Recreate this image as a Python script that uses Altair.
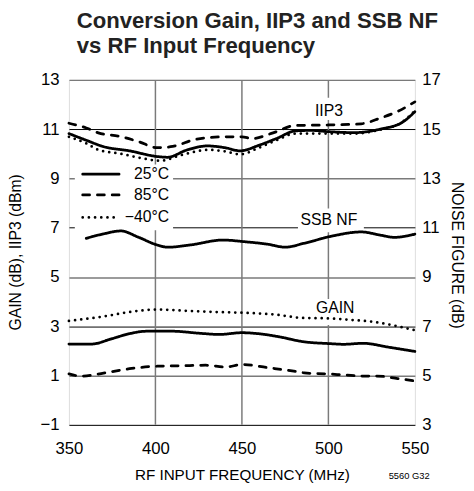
import altair as alt
import pandas as pd

FONT = "Liberation Sans"

# ---------------- data ----------------
temps = ["25°C", "85°C", "−40°C"]

iip3_25_f = [350, 360, 370, 385, 401, 407, 418, 430, 440, 449, 460, 470, 481, 490, 500, 515, 530, 543, 550]
iip3_25_v = [10.82, 10.55, 10.29, 10.12, 9.89, 9.86, 10.15, 10.32, 10.25, 10.12, 10.35, 10.62, 10.93, 10.95, 10.90, 10.86, 11.0, 11.29, 11.71]

iip3_85_f = [350, 360, 367, 380, 390, 401, 410, 424, 441, 450, 456, 468, 481, 500, 519, 530, 540, 550]
iip3_85_v = [11.24, 11.05, 10.85, 10.70, 10.50, 10.25, 10.30, 10.60, 10.69, 10.69, 10.62, 10.85, 11.15, 11.17, 11.22, 11.45, 11.72, 12.11]

iip3_m40_f = [350, 360, 367, 380, 390, 403, 415, 431, 440, 449, 460, 470, 481, 495, 515, 530, 543, 550]
iip3_m40_v = [10.69, 10.42, 10.16, 10.0, 9.85, 9.72, 9.95, 10.16, 10.10, 9.98, 10.25, 10.55, 10.82, 10.82, 10.82, 10.98, 11.3, 11.75]

# SSB noise figure, in dB (right axis)
nf_25_f = [360, 370, 380, 390, 401, 407, 420, 439, 452, 465, 475, 486, 502, 519, 530, 538, 550]
nf_25_v = [10.57, 10.75, 10.87, 10.62, 10.30, 10.21, 10.30, 10.50, 10.43, 10.33, 10.21, 10.37, 10.66, 10.83, 10.70, 10.61, 10.74]

gain_m40_f = [350, 370, 385, 401, 420, 435, 450, 470, 485, 500, 515, 526, 540, 550]
gain_m40_v = [3.22, 3.40, 3.58, 3.68, 3.62, 3.58, 3.55, 3.47, 3.34, 3.32, 3.25, 3.18, 3.0, 2.84]

gain_25_f = [350, 363, 375, 385, 395, 410, 425, 437, 450, 462, 471, 486, 500, 509, 520, 535, 550]
gain_25_v = [2.28, 2.28, 2.50, 2.70, 2.80, 2.80, 2.72, 2.67, 2.74, 2.68, 2.58, 2.37, 2.30, 2.27, 2.31, 2.15, 1.98]

gain_85_f = [350, 357, 370, 385, 401, 415, 429, 441, 450, 465, 480, 486, 499, 510, 520, 528, 540, 550]
gain_85_v = [1.07, 0.98, 1.10, 1.28, 1.38, 1.40, 1.42, 1.35, 1.45, 1.32, 1.18, 1.11, 1.07, 1.02, 0.98, 0.98, 0.88, 0.78]

left_ticks = [-1, 1, 3, 5, 7, 9, 11, 13]
x_ticks = [350, 400, 450, 500, 550]
NF_OFFSET = 4  # noise figure axis = left axis + 4 dB

# in-plot labels (text, freq, level) and their knock-out boxes
labels = ["IIP3", "SSB NF", "GAIN"]
label_f = [500.3, 500.3, 503.9]
label_v = [11.72, 7.30, 3.75]
box_f1 = [353.4, 489.0, 482.4, 493.2]
box_f2 = [410.2, 510.2, 520.5, 513.6]
box_v1 = [6.9, 11.37, 6.82, 3.05]
box_v2 = [9.57, 12.28, 7.78, 4.11]

# ---------------- tables ----------------
rows = []
def add(curve, temp, fs, vs):
    for f, v in zip(fs, vs):
        rows.append({"curve": curve, "temp": temp, "freq": f, "value": v})

add("iip3_25", temps[0], iip3_25_f, iip3_25_v)
add("iip3_85", temps[1], iip3_85_f, iip3_85_v)
add("iip3_m40", temps[2], iip3_m40_f, iip3_m40_v)
add("nf_25", temps[0], nf_25_f, [v - NF_OFFSET for v in nf_25_v])
add("gain_25", temps[0], gain_25_f, gain_25_v)
add("gain_85", temps[1], gain_85_f, gain_85_v)
add("gain_m40", temps[2], gain_m40_f, gain_m40_v)
df = pd.DataFrame(rows)

lab_df = pd.DataFrame({"label": labels, "freq": label_f, "value": label_v})
box_df = pd.DataFrame({"f1": box_f1, "f2": box_f2, "v1": box_v1, "v2": box_v2})
vgrid_df = pd.DataFrame({"freq": x_ticks[1:-1]})

xscale = alt.Scale(domain=[350, 550], nice=False, zero=False)
yscale = alt.Scale(domain=[-1, 13], nice=False, zero=False)

x_axis = alt.Axis(values=x_ticks, ticks=False, domain=False, labelPadding=16,
                  labelFlush=False, grid=False,
                  labelFontSize=17, labelFont=FONT, labelColor="black",
                  title="RF INPUT FREQUENCY (MHz)", titleFont=FONT, titleFontSize=15.5,
                  titleFontWeight="normal", titleColor="black",
                  titleY=51, titleBaseline="middle")

left_axis = alt.Axis(values=left_ticks, ticks=False, domain=False, labelPadding=10,
                     labelFontSize=17, labelFont=FONT, labelColor="black",
                     grid=True,
                     gridColor={"condition": {"test": "(datum.value + 1) % 4 == 0", "value": "black"}, "value": "#7a7a7a"},
                     gridWidth={"condition": {"test": "(datum.value + 1) % 4 == 0", "value": 1}, "value": 1.5},
                     title="GAIN (dB), IIP3 (dBm)", titleFont=FONT, titleFontSize=16,
                     titleFontWeight="normal", titleColor="black",
                     titleAngle=-90, titleX=-54, titleY=175, titleAlign="center",
                     titleBaseline="middle")

right_axis = alt.Axis(orient="right", values=left_ticks, labelExpr=f"datum.value + {NF_OFFSET}",
                      ticks=False, domain=False, grid=False, labelPadding=7,
                      labelFontSize=17, labelFont=FONT, labelColor="black",
                      title="NOISE FIGURE (dB)", titleFont=FONT, titleFontSize=16,
                      titleFontWeight="normal", titleColor="black",
                      titleAngle=90, titleX=42, titleY=178, titleAlign="center",
                      titleBaseline="middle")

vgrid = alt.Chart(vgrid_df).mark_rule(color="#7a7a7a", strokeWidth=1.5).encode(
    x=alt.X("freq:Q", scale=xscale, axis=x_axis),
)

boxes = alt.Chart(box_df).mark_rect(color="white").encode(
    x=alt.X("f1:Q", scale=xscale, axis=x_axis),
    x2="f2:Q",
    y=alt.Y("v1:Q", scale=yscale, axis=right_axis),
    y2="v2:Q",
)

lines = alt.Chart(df).mark_line(color="black", strokeWidth=2.8, strokeCap="round",
                                interpolate="monotone").encode(
    x=alt.X("freq:Q", scale=xscale, axis=x_axis),
    y=alt.Y("value:Q", scale=yscale, axis=left_axis),
    detail="curve:N",
    strokeDash=alt.StrokeDash("temp:N", legend=None,
                              scale=alt.Scale(domain=temps, range=[[1, 0], [7, 8], [0, 6.3]])),
)

texts = alt.Chart(lab_df).mark_text(font=FONT, fontSize=16, color="black",
                                    baseline="middle", align="center").encode(
    x=alt.X("freq:Q", scale=xscale, axis=x_axis),
    y=alt.Y("value:Q", scale=yscale, axis=None),
    text="label:N",
)

legend_layers = []
leg_y = [96, 117, 140]
leg_dash = [[1, 0], [7, 8], [0, 6.3]]
for t, yy, dash in zip(temps, leg_y, leg_dash):
    d = pd.DataFrame({"temp": [t]})
    legend_layers.append(
        alt.Chart(d).mark_rule(color="black", strokeWidth=2.8, strokeCap="round",
                               strokeDash=dash).encode(
            x=alt.value(14), x2=alt.value(51), y=alt.value(yy)))
    legend_layers.append(
        alt.Chart(d).mark_text(font=FONT, fontSize=16, color="black",
                               align="right", baseline="middle").encode(
            x=alt.value(102), y=alt.value(yy), text="temp:N"))

foot = alt.Chart(pd.DataFrame({"t": ["5560 G32"]})).mark_text(
    font=FONT, fontSize=9.5, color="black", align="right", baseline="middle").encode(
    x=alt.value(367), y=alt.value(403), text="t:N")

chart = alt.layer(vgrid, boxes, lines, texts, *legend_layers, foot).resolve_axis(
    y="independent"
).properties(
    width=352, height=351,
    autosize=alt.AutoSizeParams(type="none"),
    padding={"left": 62, "top": 69, "right": 52, "bottom": 55},
    title=alt.TitleParams(["Conversion Gain, IIP3 and SSB NF", "vs RF Input Frequency"],
                          anchor="start", frame="group", dx=8, offset=-9,
                          font=FONT, fontSize=22.5, fontWeight="bold", lineHeight=25,
                          color="#222222", baseline="bottom"),
).configure_view(stroke="black", strokeWidth=2).configure(background="white")

chart.save("out.html", embed_options={"renderer": "svg", "actions": False})
